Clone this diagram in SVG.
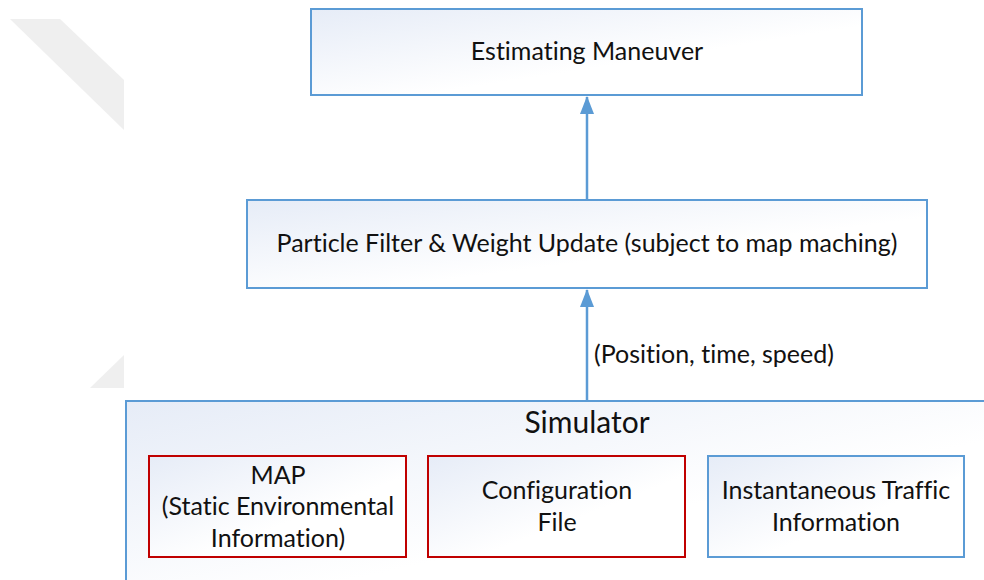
<svg xmlns="http://www.w3.org/2000/svg" width="984" height="580" viewBox="0 0 984 580">
  <defs>
    <linearGradient id="boxFill" x1="0" y1="0" x2="1" y2="1">
      <stop offset="0" stop-color="#e6ecf7"/>
      <stop offset="0.6" stop-color="#ffffff"/>
      <stop offset="1" stop-color="#ffffff"/>
    </linearGradient>
    <marker id="arrow" viewBox="0 0 18 14" refX="17" refY="7" markerWidth="18" markerHeight="14" markerUnits="userSpaceOnUse" orient="auto">
      <path d="M0,0 L18,7 L0,14 Z" fill="#5b9bd5"/>
    </marker>
    <style>
      .box { fill: url(#boxFill); stroke: #5b9bd5; stroke-width: 2; }
      .red { fill: url(#boxFill); stroke: #c00000; stroke-width: 2; }
      .lbl { font-family: Lato, "Liberation Sans", sans-serif; font-size: 25px; fill: #111; text-anchor: middle; font-variant-ligatures: none; }
      .big { font-size: 30px; }
      .edge { stroke: #5b9bd5; stroke-width: 2.5; fill: none; }
    </style>
  </defs>
  <rect width="984" height="580" fill="#ffffff"/>

  <!-- faint background shapes -->
  <polygon points="10,19 60,19 124,80 124,130" fill="#efefef"/>
  <polygon points="90,388 124,355 124,388" fill="#efefef"/>

  <g id="estimating-maneuver">
    <rect class="box" x="311" y="9" width="551" height="86"/>
    <text class="lbl" x="587" y="60">Estimating Maneuver</text>
  </g>

  <g id="particle-filter">
    <rect class="box" x="247" y="200" width="680" height="88"/>
    <text class="lbl" x="587" y="252">Particle Filter &amp; Weight Update (subject to map maching)</text>
  </g>

  <g id="simulator">
    <rect class="box" x="126" y="401" width="870" height="190"/>
    <text class="lbl big" x="587" y="433">Simulator</text>
  </g>

  <g id="map">
    <rect class="red" x="149" y="456" width="257" height="101"/>
    <text class="lbl" x="278" y="484">MAP</text>
    <text class="lbl" x="278" y="515">(Static Environmental</text>
    <text class="lbl" x="278" y="547">Information)</text>
  </g>

  <g id="configuration-file">
    <rect class="red" x="428" y="456" width="257" height="101"/>
    <text class="lbl" x="557" y="499">Configuration</text>
    <text class="lbl" x="557" y="531">File</text>
  </g>

  <g id="traffic-information">
    <rect class="box" x="708" y="456" width="256" height="101"/>
    <text class="lbl" x="836" y="499">Instantaneous Traffic</text>
    <text class="lbl" x="836" y="531">Information</text>
  </g>

  <g id="connectors">
    <line class="edge" x1="587" y1="200" x2="587" y2="97" marker-end="url(#arrow)"/>
    <line class="edge" x1="587" y1="401" x2="587" y2="290" marker-end="url(#arrow)"/>
    <text class="lbl" x="594" y="363" style="text-anchor:start">(Position, time, speed)</text>
  </g>
</svg>
